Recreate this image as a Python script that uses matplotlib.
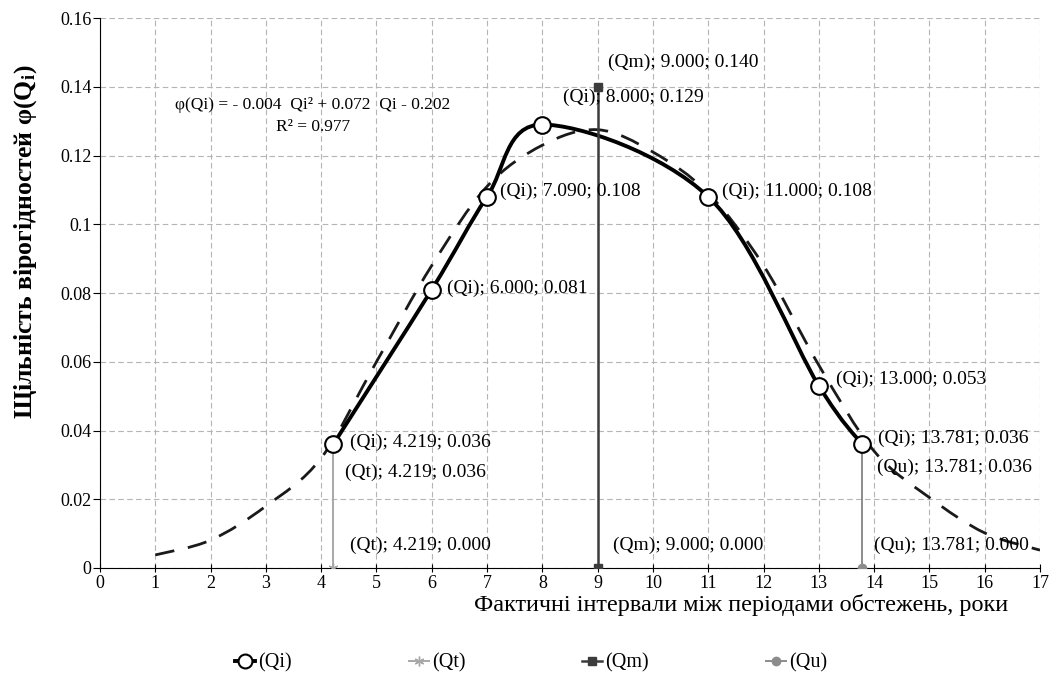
import matplotlib
matplotlib.use("Agg")
import matplotlib.pyplot as plt
import numpy as np
from matplotlib.path import Path
from matplotlib.patches import PathPatch
from matplotlib.lines import Line2D

plt.rcParams["font.family"] = ["Liberation Serif", "DejaVu Serif"]
plt.rcParams["mathtext.fontset"] = "stix"

# --- data ---
qi_x = [4.219, 6.0, 7.0, 8.0, 11.0, 13.0, 13.781]
qi_y = [0.036, 0.081, 0.108, 0.129, 0.108, 0.053, 0.036]
qi_text = ["(Qi); 4.219; 0.036", "(Qi); 6.000; 0.081", "(Qi); 7.090; 0.108",
           "(Qi); 8.000; 0.129", "(Qi); 11.000; 0.108", "(Qi); 13.000; 0.053",
           "(Qi); 13.781; 0.036"]

trend_x = [1, 2, 3, 4, 5, 6, 7, 8, 9, 10, 11, 12, 13, 14, 15, 16, 17]
trend_y = [0.0038, 0.0081, 0.0180, 0.032, 0.060, 0.088, 0.111, 0.123, 0.1275,
           0.121, 0.109, 0.088, 0.059, 0.034, 0.0205, 0.0102, 0.0052]

qt_x = [4.219, 4.219]
qt_y = [0.0, 0.036]
qm_x = [9.0, 9.0]
qm_y = [0.0, 0.140]
qu_x = [13.781, 13.781]
qu_y = [0.0, 0.036]

equation = "φ(Qi) = - 0.004  Qi² + 0.072  Qi - 0.202\nR² = 0.977"
xlabel = "Фактичні інтервали між періодами обстежень, роки"
ylabel = r"Щільність вірогідностей φ(Q$_\mathregular{i}$)"


def smooth_path(x, y, k=1/6):
    # Excel-like smoothed line as bezier segments through the points
    p = np.column_stack([x, y]).astype(float)
    ext = np.vstack([p[0], p, p[-1]])
    verts, codes = [p[0]], [Path.MOVETO]
    for i in range(len(p) - 1):
        p0, p1, p2, p3 = ext[i], ext[i + 1], ext[i + 2], ext[i + 3]
        verts += [p1 + (p2 - p0) * k, p2 - (p3 - p1) * k, p2]
        codes += [Path.CURVE4] * 3
    return Path(verts, codes)


fig = plt.figure(figsize=(10.55, 6.81), dpi=100)
ax = fig.add_axes([100/1055, 1 - 568/681, 940/1055, 550/681])

ax.set_xlim(0, 17)
ax.set_ylim(0, 0.16)
ax.set_xticks(range(0, 18))
ax.set_yticks([0, 0.02, 0.04, 0.06, 0.08, 0.1, 0.12, 0.14, 0.16])
ax.set_yticklabels(["0", "0.02", "0.04", "0.06", "0.08", "0.1", "0.12", "0.14", "0.16"])
ax.grid(True, color="#b5b5b5", lw=0.8, ls=(0, (5, 3)))
ax.set_axisbelow(True)
for s in ("top", "right"):
    ax.spines[s].set_visible(False)
ax.tick_params(axis="x", direction="inout", length=6, labelsize=13, pad=2)
ax.tick_params(axis="y", direction="out", length=5, labelsize=13, pad=1)

# trend (dashed) and Qi (solid smoothed)
ax.add_patch(PathPatch(smooth_path(trend_x, trend_y), fill=False, color="#1a1a1a",
                       lw=2.0, ls=(0, (7, 5)), zorder=3))
ax.add_patch(PathPatch(smooth_path(qi_x, qi_y), fill=False, color="black",
                       lw=2.8, zorder=4))

# vertical reference series
ax.plot(qt_x, qt_y, color="#a8a8a8", lw=1.4, marker=(6, 2, 0), ms=7, zorder=5)
ax.plot(qm_x, qm_y, color="#3c3c3c", lw=1.8, marker="s", ms=6, zorder=5)
ax.plot(qu_x, qu_y, color="#8c8c8c", lw=1.4, marker="o", ms=6, zorder=5)

ax.plot(qi_x, qi_y, ls="none", marker="o", ms=12, mfc="white", mec="black",
        mew=1.5, zorder=6)

# data labels (offsets in pixels)
qi_off = [(17, 2), (15, 1), (13, 5), (21, 27), (14, 5), (17, 6), (16, 6)]
for x, y, t, (dx, dy) in zip(qi_x, qi_y, qi_text, qi_off):
    ax.annotate(t, (x, y), xytext=(dx, dy), textcoords="offset pixels",
                ha="left", va="center", fontsize=14, zorder=7)

extra = [
    (qt_x[1], qt_y[1], "(Qt); 4.219; 0.036", (12, -28)),
    (qt_x[0], qt_y[0], "(Qt); 4.219; 0.000", (17, 23)),
    (qm_x[1], qm_y[1], "(Qm); 9.000; 0.140", (10, 24)),
    (qm_x[0], qm_y[0], "(Qm); 9.000; 0.000", (15, 23)),
    (qu_x[1], qu_y[1], "(Qu); 13.781; 0.036", (15, -23)),
    (qu_x[0], qu_y[0], "(Qu); 13.781; 0.000", (12, 23)),
]
for x, y, t, (dx, dy) in extra:
    ax.annotate(t, (x, y), xytext=(dx, dy), textcoords="offset pixels",
                ha="left", va="center", fontsize=14, zorder=7)

ax.text(3.85, 0.1315, equation, ha="center", va="center", fontsize=12.5,
        linespacing=1.45, zorder=7)

fig.text(741/1055, 1 - 605/681, xlabel, ha="center", va="center", fontsize=17.5)
fig.text(26/1055, 1 - 242/681, ylabel, ha="center", va="center", rotation=90,
         fontsize=18.5, fontweight="bold")

handles = [
    Line2D([], [], color="black", lw=2.8, marker="o", ms=10, mfc="white", mec="black", mew=1.5),
    Line2D([], [], color="#a8a8a8", lw=1.4, marker=(6, 2, 0), ms=7),
    Line2D([], [], color="#3c3c3c", lw=1.8, marker="s", ms=6),
    Line2D([], [], color="#8c8c8c", lw=1.4, marker="o", ms=6),
]
fig.legend(handles, ["(Qi)", "(Qt)", "(Qm)", "(Qu)"], loc="center", ncol=4,
           bbox_to_anchor=(531/1055, 1 - 663/681), frameon=False, fontsize=14.5,
           handlelength=1.0, handletextpad=0.15, columnspacing=5.8)

fig.savefig("out.png", dpi=100)
